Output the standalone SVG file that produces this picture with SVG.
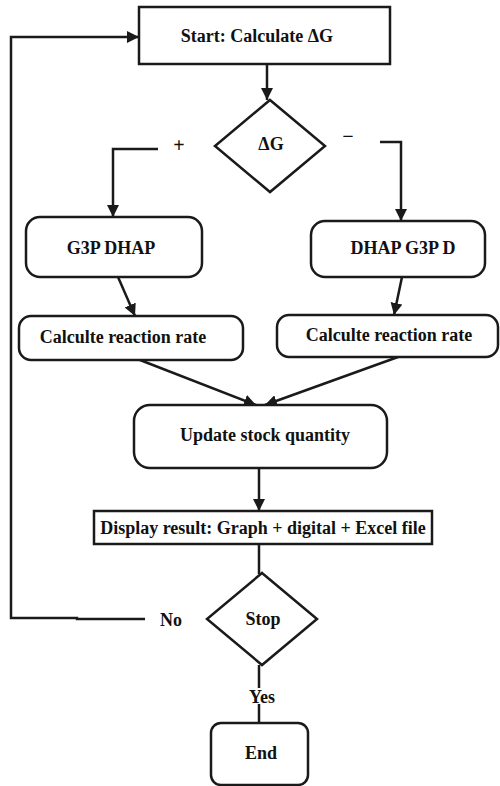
<svg xmlns="http://www.w3.org/2000/svg" width="500" height="786" viewBox="0 0 500 786">
  <defs>
    <marker id="arrow" markerWidth="12" markerHeight="12" refX="12" refY="6" orient="auto" markerUnits="userSpaceOnUse">
      <path d="M0,0 L12,6 L0,12 Z" fill="#1a1a1a"/>
    </marker>
    <style>
      .box { fill: #ffffff; stroke: #1a1a1a; stroke-width: 2.5; }
      .edge { fill: none; stroke: #1a1a1a; stroke-width: 2.5; }
      .lbl { font-family: 'Liberation Serif', 'Times New Roman', 'DejaVu Serif', serif; font-size: 18px; font-weight: bold; fill: #111111; text-anchor: middle; }
      .sign { font-family: 'Liberation Serif', 'Times New Roman', 'DejaVu Serif', serif; font-size: 20px; font-weight: bold; fill: #111111; text-anchor: middle; }
    </style>
  </defs>
  <rect width="500" height="786" fill="#ffffff"/>

  <g id="connectors">
    <!-- start to decision -->
    <path class="edge" d="M267,64 L267,100" marker-end="url(#arrow)"/>
    <!-- positive branch -->
    <path class="edge" d="M158,149 L113,149 L113,217" marker-end="url(#arrow)"/>
    <!-- negative branch -->
    <path class="edge" d="M380,142 L401,142 L401,221" marker-end="url(#arrow)"/>
    <!-- reactions to rate calculations -->
    <path class="edge" d="M118,277 L135,316" marker-end="url(#arrow)"/>
    <path class="edge" d="M402,277 L394,315" marker-end="url(#arrow)"/>
    <!-- rates to stock update -->
    <path class="edge" d="M140,360 L256,405" marker-end="url(#arrow)"/>
    <path class="edge" d="M398,357 L265,405" marker-end="url(#arrow)"/>
    <!-- update to display -->
    <path class="edge" d="M259,468 L259,511" marker-end="url(#arrow)"/>
    <!-- display to stop -->
    <path class="edge" d="M259,544 L259,574"/>
    <!-- stop: no, loop back -->
    <path class="edge" d="M145,619 L77,619 L77,618 L11,618 L11,37 L139,37" marker-end="url(#arrow)"/>
    <!-- stop: yes -->
    <path class="edge" d="M259,665 L259,688"/>
    <path class="edge" d="M259,704 L259,723"/>
  </g>

  <g id="start">
    <rect class="box" x="139" y="7" width="251" height="57"/>
    <text class="lbl" x="257" y="42">Start: Calculate ΔG</text>
  </g>

  <g id="decision-dg">
    <polygon class="box" points="270,100 325,146 270,192 215,146"/>
    <text class="lbl" x="271" y="150">ΔG</text>
    <text class="sign" x="179" y="152">+</text>
    <text class="sign" x="348" y="143">−</text>
  </g>

  <g id="g3p-dhap">
    <rect class="box" x="26" y="217" width="176" height="60" rx="14"/>
    <text class="lbl" x="111" y="254">G3P DHAP</text>
  </g>

  <g id="dhap-g3p">
    <rect class="box" x="311" y="221" width="174" height="56" rx="14"/>
    <text class="lbl" x="403" y="254">DHAP G3P D</text>
  </g>

  <g id="rate-left">
    <rect class="box" x="19" y="316" width="224" height="44" rx="12"/>
    <text class="lbl" x="123" y="343">Calculte reaction rate</text>
  </g>

  <g id="rate-right">
    <rect class="box" x="277" y="315" width="221" height="42" rx="12"/>
    <text class="lbl" x="389" y="341">Calculte reaction rate</text>
  </g>

  <g id="update">
    <rect class="box" x="134" y="405" width="253" height="63" rx="16"/>
    <text class="lbl" x="265" y="441">Update stock quantity</text>
  </g>

  <g id="display">
    <rect class="box" x="94" y="511" width="338" height="33"/>
    <text class="lbl" x="263" y="534">Display result: Graph + digital + Excel file</text>
  </g>

  <g id="stop">
    <polygon class="box" points="262,573 317,619 262,665 207,619"/>
    <text class="lbl" x="263" y="625">Stop</text>
    <text class="lbl" x="171" y="626">No</text>
    <text class="lbl" x="262" y="703">Yes</text>
  </g>

  <g id="end">
    <rect class="box" x="211" y="723" width="97" height="62" rx="10"/>
    <text class="lbl" x="261" y="759">End</text>
  </g>
</svg>
